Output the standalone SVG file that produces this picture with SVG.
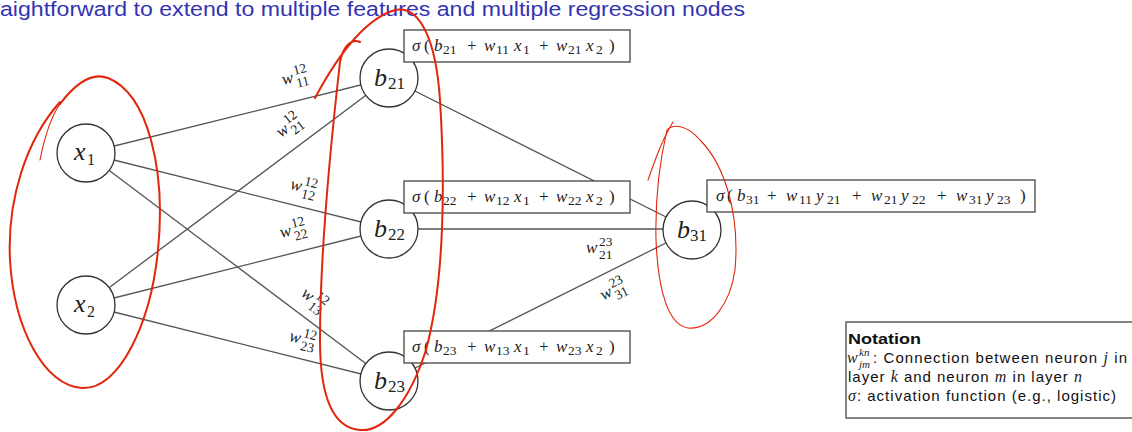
<svg xmlns="http://www.w3.org/2000/svg" width="1132" height="432" viewBox="0 0 1132 432">
<style>
.title{font-family:"Liberation Sans",Arial,sans-serif;font-size:20px;fill:#3333b3}
.edge{stroke:#555;stroke-width:1.3;fill:none}
.node{fill:#fff;stroke:#333;stroke-width:1.3}
.box{fill:#fff;stroke:#444;stroke-width:1.3}
.m{font-family:"Liberation Serif","Times New Roman",serif;font-size:17px;fill:#222}
.i{font-style:italic}
.s{font-size:13.5px}
.nl{font-family:"Liberation Serif","Times New Roman",serif;fill:#222}
.red{fill:none;stroke:#e2260c;stroke-width:2;stroke-linecap:round}
.redt{fill:none;stroke:#e2260c;stroke-width:1.1;stroke-linecap:round}
.sans{font-family:"Liberation Sans",Arial,sans-serif;font-size:15px;fill:#111}
</style>
<rect width="1132" height="432" fill="#fff"/>
<text class="title" x="0" y="16" textLength="745" lengthAdjust="spacingAndGlyphs">aightforward to extend to multiple features and multiple regression nodes</text>

<g id="connectors">
<line class="edge" x1="86" y1="153" x2="389" y2="78"/>
<line class="edge" x1="86" y1="153" x2="389" y2="229"/>
<line class="edge" x1="86" y1="153" x2="389" y2="381"/>
<line class="edge" x1="86" y1="305" x2="389" y2="78"/>
<line class="edge" x1="86" y1="305" x2="389" y2="229"/>
<line class="edge" x1="86" y1="305" x2="389" y2="381"/>
<line class="edge" x1="389" y1="78" x2="692" y2="230"/>
<line class="edge" x1="389" y1="229" x2="692" y2="229"/>
<line class="edge" x1="389" y1="381" x2="692" y2="230"/>
</g>

<g id="x1"><circle class="node" cx="86" cy="153" r="29"/><text class="nl" y="160"><tspan x="74" class="i" font-size="26">x</tspan><tspan x="87" y="165" font-size="16">1</tspan></text></g>
<g id="x2"><circle class="node" cx="86" cy="305" r="29"/><text class="nl" y="312"><tspan x="74" class="i" font-size="26">x</tspan><tspan x="87" y="317" font-size="16">2</tspan></text></g>
<g id="b21"><circle class="node" cx="389" cy="78" r="29"/><text class="nl" y="86"><tspan x="374" class="i" font-size="26">b</tspan><tspan x="388" y="89" font-size="17">21</tspan></text></g>
<g id="b22"><circle class="node" cx="389" cy="229" r="29"/><text class="nl" y="237"><tspan x="374" class="i" font-size="26">b</tspan><tspan x="388" y="240" font-size="17">22</tspan></text></g>
<g id="b23"><circle class="node" cx="389" cy="381" r="29"/><text class="nl" y="389"><tspan x="374" class="i" font-size="26">b</tspan><tspan x="388" y="392" font-size="17">23</tspan></text></g>
<g id="b31"><circle class="node" cx="692" cy="230" r="29"/><text class="nl" y="238"><tspan x="677" class="i" font-size="26">b</tspan><tspan x="690" y="241" font-size="17">31</tspan></text></g>

<g id="box21"><rect class="box" x="404" y="30" width="226" height="32"/>
<text class="m" y="51"><tspan x="412" class="i">σ</tspan><tspan x="424">(</tspan><tspan x="434" class="i">b</tspan><tspan x="443" y="54" class="s">21</tspan><tspan x="467" y="51">+</tspan><tspan x="484" class="i">w</tspan><tspan x="496" y="54" class="s">11</tspan><tspan x="514" y="51" class="i">x</tspan><tspan x="523" y="54" class="s">1</tspan><tspan x="539" y="51">+</tspan><tspan x="556" class="i">w</tspan><tspan x="568" y="54" class="s">21</tspan><tspan x="586" y="51" class="i">x</tspan><tspan x="596" y="54" class="s">2</tspan><tspan x="609" y="51">)</tspan></text></g>
<g id="box22"><rect class="box" x="404" y="181" width="226" height="32"/>
<text class="m" y="202"><tspan x="412" class="i">σ</tspan><tspan x="424">(</tspan><tspan x="434" class="i">b</tspan><tspan x="443" y="205" class="s">22</tspan><tspan x="467" y="202">+</tspan><tspan x="484" class="i">w</tspan><tspan x="496" y="205" class="s">12</tspan><tspan x="514" y="202" class="i">x</tspan><tspan x="523" y="205" class="s">1</tspan><tspan x="539" y="202">+</tspan><tspan x="556" class="i">w</tspan><tspan x="568" y="205" class="s">22</tspan><tspan x="586" y="202" class="i">x</tspan><tspan x="596" y="205" class="s">2</tspan><tspan x="609" y="202">)</tspan></text></g>
<g id="box23"><rect class="box" x="404" y="331" width="226" height="32"/>
<text class="m" y="352"><tspan x="412" class="i">σ</tspan><tspan x="424">(</tspan><tspan x="434" class="i">b</tspan><tspan x="443" y="355" class="s">23</tspan><tspan x="467" y="352">+</tspan><tspan x="484" class="i">w</tspan><tspan x="496" y="355" class="s">13</tspan><tspan x="514" y="352" class="i">x</tspan><tspan x="523" y="355" class="s">1</tspan><tspan x="539" y="352">+</tspan><tspan x="556" class="i">w</tspan><tspan x="568" y="355" class="s">23</tspan><tspan x="586" y="352" class="i">x</tspan><tspan x="596" y="355" class="s">2</tspan><tspan x="609" y="352">)</tspan></text></g>
<g id="box31"><rect class="box" x="707" y="180" width="328" height="32"/>
<text class="m" y="201"><tspan x="716" class="i">σ</tspan><tspan x="727">(</tspan><tspan x="737" class="i">b</tspan><tspan x="746" y="204" class="s">31</tspan><tspan x="767" y="201">+</tspan><tspan x="786" class="i">w</tspan><tspan x="799" y="204" class="s">11</tspan><tspan x="816" y="201" class="i">y</tspan><tspan x="827" y="204" class="s">21</tspan><tspan x="852" y="201">+</tspan><tspan x="871" class="i">w</tspan><tspan x="884" y="204" class="s">21</tspan><tspan x="901" y="201" class="i">y</tspan><tspan x="912" y="204" class="s">22</tspan><tspan x="937" y="201">+</tspan><tspan x="956" class="i">w</tspan><tspan x="969" y="204" class="s">31</tspan><tspan x="986" y="201" class="i">y</tspan><tspan x="997" y="204" class="s">23</tspan><tspan x="1020" y="201">)</tspan></text></g>

<g id="edge-labels" class="m">
<g transform="translate(295,78) rotate(-14)"><text x="-13" y="4" class="i">w</text><text x="0" y="-3" class="s">12</text><text x="0" y="10" class="s">11</text></g>
<g transform="translate(289,127) rotate(-37)"><text x="-13" y="4" class="i">w</text><text x="0" y="-3" class="s">12</text><text x="0" y="10" class="s">21</text></g>
<g transform="translate(303,188) rotate(14)"><text x="-13" y="4" class="i">w</text><text x="0" y="-3" class="s">12</text><text x="0" y="10" class="s">12</text></g>
<g transform="translate(293,231) rotate(-14)"><text x="-13" y="4" class="i">w</text><text x="0" y="-3" class="s">12</text><text x="0" y="10" class="s">22</text></g>
<g transform="translate(313,300) rotate(37)"><text x="-13" y="4" class="i">w</text><text x="0" y="-3" class="s">12</text><text x="0" y="10" class="s">13</text></g>
<g transform="translate(302,340) rotate(14)"><text x="-13" y="4" class="i">w</text><text x="0" y="-3" class="s">12</text><text x="0" y="10" class="s">23</text></g>
<g transform="translate(599,249)"><text x="-13" y="4" class="i">w</text><text x="0" y="-3" class="s">23</text><text x="0" y="10" class="s">21</text></g>
<g transform="translate(613,291) rotate(-26.5)"><text x="-13" y="4" class="i">w</text><text x="0" y="-3" class="s">23</text><text x="0" y="10" class="s">31</text></g>
</g>

<g id="notation">
<rect class="box" x="846" y="322" width="290" height="96"/>
<text class="sans" x="848" y="344" font-weight="bold" textLength="73" lengthAdjust="spacingAndGlyphs">Notation</text>
<text class="nl i" x="847" y="363" font-size="16">w</text>
<text class="nl i" x="859" y="356" font-size="11">kn</text>
<text class="nl i" x="859" y="368" font-size="11">jm</text>
<text class="sans" x="873" y="363" textLength="254" lengthAdjust="spacing">: Connection between neuron <tspan class="nl i" font-size="16">j</tspan> in</text>
<text class="sans" x="848" y="382" textLength="234" lengthAdjust="spacing">layer <tspan class="nl i" font-size="16">k</tspan> and neuron <tspan class="nl i" font-size="16">m</tspan> in layer <tspan class="nl i" font-size="16">n</tspan></text>
<text class="sans" x="848" y="401" textLength="268" lengthAdjust="spacing"><tspan class="nl i" font-size="16">σ</tspan>: activation function (e.g., logistic)</text>
</g>

<g id="annotations">
<path class="redt" d="M40 160 C44 140 50 118 60 104"/>
<path class="red" d="M60 104 C75 84 92 72 108 78 C148 94 166 170 158 250 C151 322 120 390 82 388 C45 386 14 330 10 260 C7 200 26 140 60 102"/>
<path class="red" d="M315 98 C330 70 360 20 395 10 C420 5 436 40 440 100 C445 180 445 280 426 350 C410 400 385 432 360 430 C334 428 320 400 320 340 C320 250 330 150 340 62 C343 46 352 38 360 42"/>
<path class="redt" d="M648 180 C655 160 662 140 673 122"/>
<path class="redt" d="M667 130 C673 124 686 124 700 140 C725 165 740 215 735 270 C730 305 710 330 688 328 C668 325 658 290 656 240 C655 200 660 160 667 130"/>
</g>
</svg>
